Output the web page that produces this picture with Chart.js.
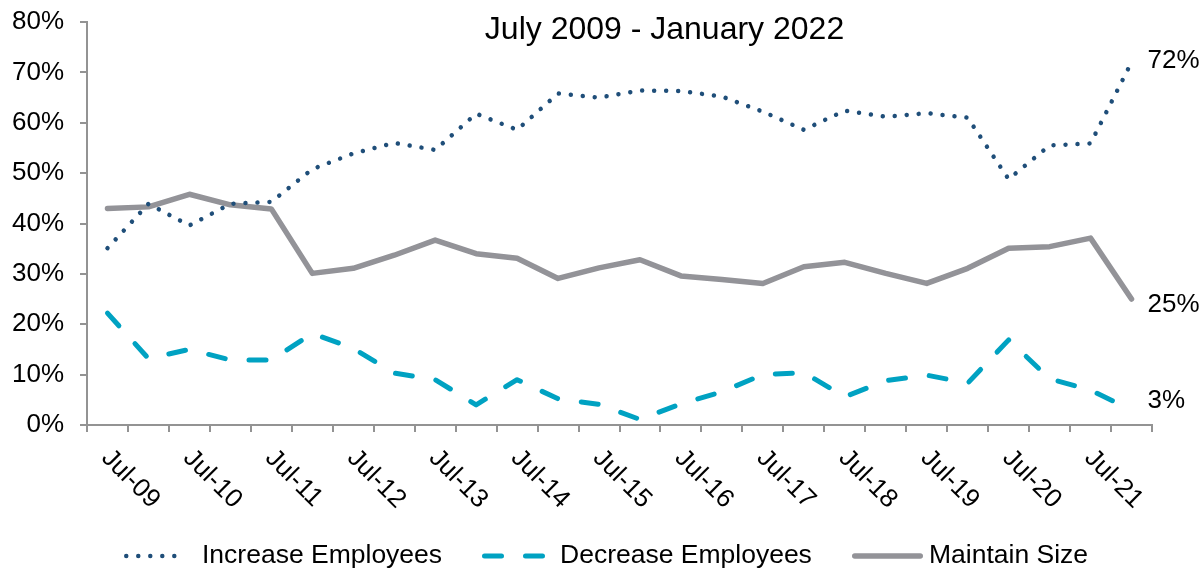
<!DOCTYPE html>
<html lang="en">
<head>
    <title>Employee Plans July 2009 - January 2022</title>
    <script src="https://cdn.jsdelivr.net/npm/chart.js@4.4.0/dist/chart.umd.min.js"></script>
    <style>
    body {
        margin: 0;
        background-color: #fff;
    }

    .chart-container {
        width: 1202px;
        height: 575px;
    }
    </style>
</head>
<body>
    <div class="chart-container">
        <canvas id="planChart"></canvas>
    </div>

    <script>
        // Semi-annual survey periods
        const periods = ['Jul-09', 'Jan-10', 'Jul-10', 'Jan-11', 'Jul-11', 'Jan-12', 'Jul-12', 'Jan-13',
            'Jul-13', 'Jan-14', 'Jul-14', 'Jan-15', 'Jul-15', 'Jan-16', 'Jul-16', 'Jan-17', 'Jul-17',
            'Jan-18', 'Jul-18', 'Jan-19', 'Jul-19', 'Jan-20', 'Jul-20', 'Jan-21', 'Jul-21', 'Jan-22'];

        // Values in percent
        const increaseEmployees = [35.1, 43.9, 39.6, 43.9, 44.3, 50.8, 53.9, 56.0, 54.6, 61.8, 58.6, 65.8, 65.0,
            66.4, 66.3, 65.2, 62.2, 58.6, 62.4, 61.2, 61.9, 61.0, 48.8, 55.5, 55.9, 72];
        const decreaseEmployees = [22.2, 13.2, 15.0, 12.9, 12.9, 18.2, 15.2, 10.3, 9.0, 4.0, 9.0, 5.2, 4.1,
            1.1, 4.2, 6.6, 10.0, 10.4, 5.6, 8.8, 9.9, 8.3, 16.9, 9.2, 6.9, 3];
        const maintainSize = [43.0, 43.3, 45.8, 43.7, 42.9, 30.1, 31.1, 33.7, 36.7, 34.0, 33.1, 29.1, 31.2,
            32.8, 29.6, 28.9, 28.1, 31.4, 32.3, 30.1, 28.1, 31.1, 35.1, 35.4, 37.1, 25];

        const seriesNames = ['Increase Employees', 'Decrease Employees', 'Maintain Size'];
        const chartTitle = 'July 2009 - January 2022';

        const FONT = '"Liberation Sans", Arial, sans-serif';
        const AXIS_GRAY = '#939393';
        Chart.defaults.font.family = FONT;
        Chart.defaults.color = '#000';

        // Title sits inside the plot area, a bit right of centre
        const titlePlugin = {
            id: 'insideTitle',
            afterDraw(chart) {
                const { ctx, chartArea } = chart;
                ctx.save();
                ctx.font = '32px ' + FONT;
                ctx.fillStyle = '#000';
                ctx.textAlign = 'center';
                ctx.textBaseline = 'alphabetic';
                ctx.fillText(chartTitle, (chartArea.left + chartArea.right) / 2 + 45, chartArea.top + 16.5);
                ctx.restore();
            }
        };

        // Rotated July labels under the x axis
        const julyLabels = {
            id: 'julyLabels',
            afterDraw(chart) {
                const { ctx } = chart;
                const x = chart.scales.x;
                ctx.save();
                ctx.font = '26px ' + FONT;
                ctx.fillStyle = '#000';
                ctx.textAlign = 'left';
                ctx.textBaseline = 'middle';
                periods.forEach((p, i) => {
                    if (!p.startsWith('Jul')) return;
                    ctx.save();
                    ctx.translate(x.getPixelForValue(i) - 2, x.top + 29);
                    ctx.rotate(Math.PI / 4);
                    ctx.fillText(p, 0, 0);
                    ctx.restore();
                });
                ctx.restore();
            }
        };

        // Last value of each series written at the line end
        const endLabelShift = [6, -2, 13];
        const endLabels = {
            id: 'endLabels',
            afterDatasetsDraw(chart) {
                const { ctx } = chart;
                ctx.save();
                ctx.font = '26px ' + FONT;
                ctx.fillStyle = '#000';
                ctx.textAlign = 'left';
                ctx.textBaseline = 'alphabetic';
                chart.data.datasets.forEach((ds, i) => {
                    const pts = chart.getDatasetMeta(i).data;
                    const last = pts[pts.length - 1];
                    const val = ds.data[ds.data.length - 1];
                    ctx.fillText(Math.round(val) + '%', last.x + 16, last.y + endLabelShift[i]);
                });
                ctx.restore();
            }
        };

        // Legend row under the axis labels: line sample, then name
        const legendSpots = [
            { from: 124, to: 188, text: 202 },
            { from: 482, to: 547, text: 560 },
            { from: 852, to: 923, text: 929 }
        ];
        const bottomLegend = {
            id: 'bottomLegend',
            afterDraw(chart) {
                const { ctx } = chart;
                const y = 556;
                ctx.save();
                ctx.font = '26.5px ' + FONT;
                ctx.textAlign = 'left';
                ctx.textBaseline = 'middle';
                chart.data.datasets.forEach((ds, i) => {
                    const spot = legendSpots[i];
                    ctx.save();
                    ctx.strokeStyle = ds.borderColor;
                    ctx.lineWidth = ds.borderWidth;
                    ctx.lineCap = ds.borderCapStyle;
                    ctx.setLineDash(ds.borderDash || []);
                    ctx.beginPath();
                    ctx.moveTo(spot.from + ds.borderWidth / 2, y);
                    ctx.lineTo(spot.to - ds.borderWidth / 2, y);
                    ctx.stroke();
                    ctx.restore();
                    ctx.fillStyle = '#000';
                    ctx.fillText(ds.label, spot.text, y);
                });
                ctx.restore();
            }
        };

        const ctx = document.getElementById('planChart').getContext('2d');
        const planChart = new Chart(ctx, {
            type: 'line',
            data: {
                labels: periods,
                datasets: [{
                    label: seriesNames[0],
                    data: increaseEmployees,
                    borderColor: '#1F4E79',
                    backgroundColor: '#1F4E79',
                    borderWidth: 4.5,
                    borderDash: [0.01, 12],
                    borderCapStyle: 'round',
                    borderJoinStyle: 'round'
                }, {
                    label: seriesNames[1],
                    data: decreaseEmployees,
                    borderColor: '#00A2C2',
                    backgroundColor: '#00A2C2',
                    borderWidth: 5,
                    borderDash: [17, 24],
                    borderCapStyle: 'round',
                    borderJoinStyle: 'round'
                }, {
                    label: seriesNames[2],
                    data: maintainSize,
                    borderColor: '#939398',
                    backgroundColor: '#939398',
                    borderWidth: 5.5,
                    borderCapStyle: 'round',
                    borderJoinStyle: 'round'
                }]
            },
            options: {
                responsive: true,
                maintainAspectRatio: false,
                animation: false,
                elements: {
                    point: { radius: 0, hoverRadius: 0 },
                    line: { tension: 0 }
                },
                layout: {
                    padding: { left: 0, right: 50, top: 22, bottom: 70 }
                },
                plugins: {
                    title: { display: false },
                    tooltip: { enabled: false },
                    legend: { display: false }
                },
                scales: {
                    x: {
                        offset: true,
                        grid: {
                            offset: true,
                            drawOnChartArea: false,
                            drawTicks: true,
                            tickLength: 7,
                            color: AXIS_GRAY,
                            lineWidth: 2
                        },
                        border: { color: AXIS_GRAY, width: 2 },
                        ticks: { display: false, autoSkip: false },
                        afterFit(scale) { scale.height = 80; }
                    },
                    y: {
                        min: 0,
                        max: 80,
                        grid: {
                            drawOnChartArea: false,
                            drawTicks: true,
                            tickLength: 7,
                            color: AXIS_GRAY,
                            lineWidth: 2
                        },
                        border: { color: AXIS_GRAY, width: 2 },
                        ticks: {
                            stepSize: 10,
                            padding: 16,
                            color: '#000',
                            font: { size: 26 },
                            callback: (v) => v + '%'
                        },
                        afterFit(scale) {
                            scale.width = 87;
                            scale.paddingTop = 0;
                            scale.paddingBottom = 0;
                        }
                    }
                }
            },
            plugins: [titlePlugin, julyLabels, endLabels, bottomLegend]
        });
    </script>
</body>
</html>
